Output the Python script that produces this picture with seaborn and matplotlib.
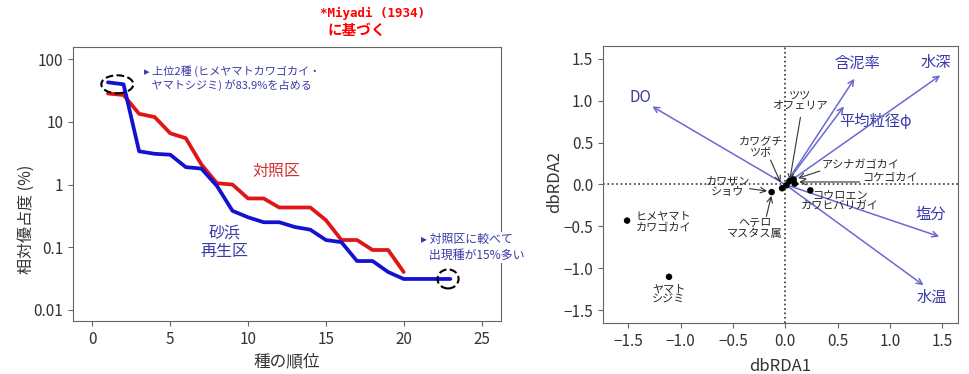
import matplotlib
matplotlib.use("Agg")
import matplotlib.pyplot as plt
import numpy as np
import pandas as pd
import seaborn as sns
from matplotlib.patches import Ellipse

# 左: 相対優占度曲線
rank_control = list(range(1, 21))
dom_control = [28.5, 27, 13.5, 12, 6.6, 5.5, 2.1, 1.05, 1.0, 0.6,
               0.6, 0.43, 0.43, 0.43, 0.27, 0.13, 0.13, 0.09, 0.09, 0.04]
rank_beach = list(range(1, 24))
dom_beach = [43, 40, 3.4, 3.1, 3.0, 1.9, 1.8, 0.95, 0.38, 0.3,
             0.25, 0.25, 0.21, 0.19, 0.13, 0.12, 0.06, 0.06, 0.04, 0.031,
             0.031, 0.031, 0.031]

# 右: dbRDA
env_names = ["DO", "含泥率", "平均粒径φ", "水深", "塩分", "水温"]
env_x = [-1.27, 0.66, 0.56, 1.48, 1.47, 1.32]
env_y = [0.93, 1.26, 0.93, 1.30, -0.62, -1.20]
env_lab_x = [-1.38, 0.69, 0.86, 1.44, 1.39, 1.40]
env_lab_y = [1.04, 1.44, 0.75, 1.45, -0.36, -1.35]

sp_x = [-1.51, -1.11, -0.13, -0.03, 0.01, 0.04, 0.08, 0.09, 0.24]
sp_y = [-0.43, -1.10, -0.09, -0.045, -0.01, 0.04, 0.06, 0.01, -0.07]

CJK = ["Noto Sans CJK JP", "DejaVu Sans"]

sns.set_style("ticks")
plt.rcParams["font.family"] = CJK
plt.rcParams["axes.edgecolor"] = "#666666"
plt.rcParams["xtick.color"] = "#666666"
plt.rcParams["ytick.color"] = "#666666"
plt.rcParams["xtick.labelcolor"] = "#333333"
plt.rcParams["ytick.labelcolor"] = "#333333"

fig = plt.figure(figsize=(9.69, 3.74), dpi=100)
ax1 = fig.add_axes([0.0753, 0.1417, 0.4417, 0.7313])
ax2 = fig.add_axes([0.6223, 0.1364, 0.3664, 0.7406])

TXT_BLUE = "#3a3aa8"

# ---- 左パネル ----
df_c = pd.DataFrame({"rank": rank_control, "dom": dom_control})
df_b = pd.DataFrame({"rank": rank_beach, "dom": dom_beach})
sns.lineplot(data=df_c, x="rank", y="dom", color="#e01515", linewidth=2.7, ax=ax1)
sns.lineplot(data=df_b, x="rank", y="dom", color="#1212d0", linewidth=2.7, ax=ax1)
ax1.set_yscale("log")
ax1.set_ylim(0.0066, 155)
ax1.set_xlim(-1.25, 26.25)
ax1.set_xticks([0, 5, 10, 15, 20, 25])
ax1.set_yticks([0.01, 0.1, 1, 10, 100])
ax1.set_yticklabels(["0.01", "0.1", "1", "10", "100"])
ax1.minorticks_off()
ax1.tick_params(labelsize=11)
ax1.set_xlabel("種の順位", fontsize=12, color="#333333")
ax1.set_ylabel("相対優占度 (%)", fontsize=11.5, color="#333333")
ax1.yaxis.set_label_coords(-0.089, 0.37)

# 点線の楕円 (中心はデータ座標、大きさはピクセル)
ax_w_px = 0.4417 * 969
ax_h_px = 0.7313 * 374
for cx, cy, w_px, h_px in [(1.6, 40, 32, 18), (22.85, 0.031, 21, 19)]:
    disp = ax1.transData.transform((cx, cy))
    fx, fy = ax1.transAxes.inverted().transform(disp)
    ax1.add_patch(Ellipse((fx, fy), w_px / ax_w_px, h_px / ax_h_px,
                          transform=ax1.transAxes, fill=False, linestyle="--",
                          linewidth=1.5, edgecolor="black", zorder=6))

ax1.text(3.3, 50, "▸ 上位2種 (ヒメヤマトカワゴカイ・\n   ヤマトシジミ) が83.9%を占める",
         fontsize=8, color=TXT_BLUE, va="center", linespacing=1.3)
ax1.text(21.1, 0.098, "▸ 対照区に較べて\n   出現種が15%多い", fontsize=8.6, color=TXT_BLUE,
         va="center", linespacing=1.25, zorder=5,
         bbox=dict(facecolor="white", edgecolor="none", pad=1))
ax1.text(11.8, 1.65, "対照区", fontsize=11.5, color="#d03030", ha="center", va="center")
ax1.text(8.5, 0.12, "砂浜\n再生区", fontsize=11.5, color=TXT_BLUE, ha="center", va="center",
         linespacing=1.15)

fig.text(0.330, 1 - 13 / 374, "*Miyadi (1934)", fontsize=9, color="red",
         fontweight="bold", family=["DejaVu Sans Mono", "DejaVu Sans"],
         ha="left", va="center")
fig.text(0.338, 1 - 30 / 374, "に基づく", fontsize=10.5, color="red",
         fontweight="bold", ha="left", va="center")

# ---- 右パネル ----
ax2.axhline(0, color="#333333", linestyle=":", linewidth=1.2, zorder=1)
ax2.axvline(0, color="#333333", linestyle=":", linewidth=1.2, zorder=1)
for name, ex, ey, lx, ly in zip(env_names, env_x, env_y, env_lab_x, env_lab_y):
    ax2.annotate("", xy=(ex, ey), xytext=(0, 0),
                 arrowprops=dict(arrowstyle="->", color="#6a6ad0", lw=1.1,
                                 shrinkA=0, shrinkB=0))
    ax2.text(lx, ly, name, fontsize=11, color=TXT_BLUE, ha="center", va="center")

df_sp = pd.DataFrame({"x": sp_x, "y": sp_y})
sns.scatterplot(data=df_sp, x="x", y="y", color="black", s=22, edgecolor="none",
                zorder=4, ax=ax2)

sp_fs = 8
ax2.text(-1.43, -0.45, "ヒメヤマト\nカワゴカイ", fontsize=sp_fs, ha="left", va="center", linespacing=1.1)
ax2.text(-1.11, -1.31, "ヤマト\nシジミ", fontsize=sp_fs, ha="center", va="center", linespacing=1.1)
ax2.text(-0.29, -0.52, "ヘテロ\nマスタス属", fontsize=sp_fs, ha="center", va="center", linespacing=1.1)
ax2.text(-0.55, -0.02, "カワザン\nショウ", fontsize=sp_fs, ha="center", va="center", linespacing=1.1)
ax2.text(-0.23, 0.44, "カワグチ\nツボ", fontsize=sp_fs, ha="center", va="center", linespacing=1.1)
ax2.text(0.14, 1.0, "ツツ\nオフェリア", fontsize=sp_fs, ha="center", va="center", linespacing=1.1)
ax2.text(0.35, 0.23, "アシナガゴカイ", fontsize=sp_fs, ha="left", va="center")
ax2.text(0.74, 0.085, "コケゴカイ", fontsize=sp_fs, ha="left", va="center")
ax2.text(0.52, -0.20, "コウロエン\nカワヒバリガイ", fontsize=sp_fs, ha="center", va="center", linespacing=1.1)

arr = dict(arrowstyle="->", color="#333333", lw=0.8, shrinkA=0, shrinkB=1)
ax2.annotate("", xy=(-0.13, -0.12), xytext=(-0.18, -0.38), arrowprops=arr)
ax2.annotate("", xy=(-0.16, -0.08), xytext=(-0.34, -0.05), arrowprops=arr)
ax2.annotate("", xy=(-0.04, 0.01), xytext=(-0.14, 0.29), arrowprops=arr)
ax2.annotate("", xy=(0.04, 0.03), xytext=(0.145, 0.80), arrowprops=arr)
ax2.annotate("", xy=(0.11, 0.07), xytext=(0.33, 0.16), arrowprops=arr)
ax2.annotate("", xy=(0.12, 0.03), xytext=(0.71, 0.03), arrowprops=arr)

ax2.set_xlim(-1.74, 1.65)
ax2.set_ylim(-1.65, 1.65)
ax2.set_xticks([-1.5, -1.0, -0.5, 0.0, 0.5, 1.0, 1.5])
ax2.set_yticks([-1.5, -1.0, -0.5, 0.0, 0.5, 1.0, 1.5])
ax2.tick_params(labelsize=11)
ax2.set_xlabel("dbRDA1", fontsize=12, color="#333333", labelpad=6)
ax2.set_ylabel("dbRDA2", fontsize=12, color="#333333")
ax2.yaxis.set_label_coords(-0.113, 0.51)

fig.savefig("out.png", dpi=100)
